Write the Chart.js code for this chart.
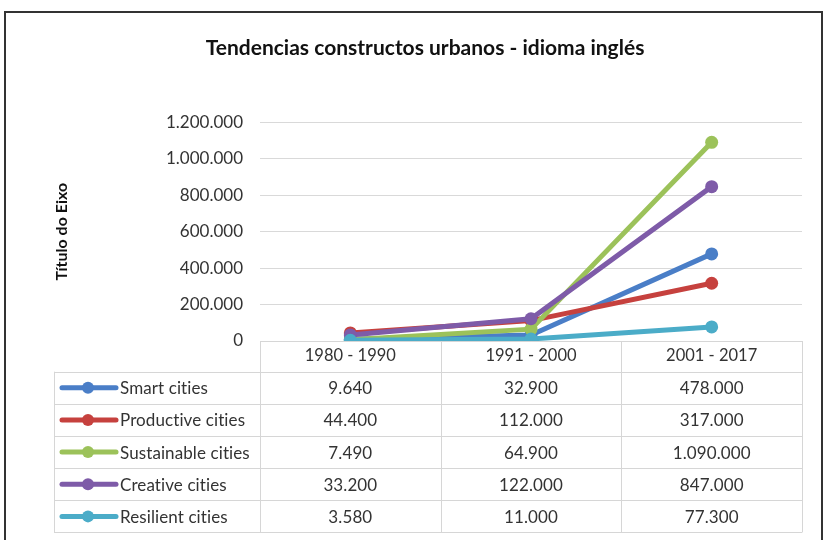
<!DOCTYPE html>
<html>
<head>
<meta charset="utf-8">
<script src="https://cdn.jsdelivr.net/npm/chart.js@4/dist/chart.umd.min.js"></script>
<style>
body { margin: 0; background: #fff; }
#frame { position: absolute; left: 4px; top: 11px; width: 815px; height: 540px; border: 2px solid #333; }
#wrap { position: absolute; left: 0; top: 0; width: 824px; height: 540px; }
</style>
</head>
<body>
<div id="frame"></div>
<div id="wrap"><canvas id="trend"></canvas></div>
<script>
// periods on the x axis / table header
const periods = ['1980 - 1990', '1991 - 2000', '2001 - 2017']
const seriesNames = ['Smart cities', 'Productive cities', 'Sustainable cities', 'Creative cities', 'Resilient cities']
const smartCities = [9640, 32900, 478000]
const productiveCities = [44400, 112000, 317000]
const sustainableCities = [7490, 64900, 1090000]
const creativeCities = [33200, 122000, 847000]
const resilientCities = [3580, 11000, 77300]
const seriesColors = ['#4A7EC7', '#C6413E', '#9CC25A', '#7E5BA8', '#4BACC8']
const yTicks = [0, 200000, 400000, 600000, 800000, 1000000, 1200000]

const allValues = [smartCities, productiveCities, sustainableCities, creativeCities, resilientCities]
const FONT = 'Lato, "Open Sans", sans-serif'
const TEXT = '#333333'

// 1234567 -> 1.234.567
function fmt(v) {
    return String(v).replace(/\B(?=(\d{3})+(?!\d))/g, '.')
}

const datasets = seriesNames.map((name, i) => ({
    label: name,
    data: allValues[i],
    borderColor: seriesColors[i],
    backgroundColor: seriesColors[i],
    borderWidth: 5,
    pointRadius: 6.5,
    pointBorderWidth: 0,
    tension: 0,
    order: seriesNames.length - 1 - i
}))

// draws the data table under the plot (Excel style)
const dataTable = {
    id: 'dataTable',
    afterDraw(chart) {
        const {ctx, chartArea, scales} = chart
        const x = scales.x
        const n = seriesNames.length
        const colW = (chartArea.right - chartArea.left) / periods.length
        const headTop = chartArea.bottom
        const bodyTop = headTop + 30.7
        const rowH = 32.15
        const bottom = bodyTop + n * rowH
        const legendLeft = 54

        ctx.save()
        ctx.strokeStyle = '#d6d6d6'
        ctx.lineWidth = 1
        ctx.beginPath()
        for (let r = 0; r <= n; r++) {
            const y = Math.round(bodyTop + r * rowH) + 0.5
            ctx.moveTo(legendLeft, y)
            ctx.lineTo(chartArea.right, y)
        }
        for (let c = 0; c <= periods.length; c++) {
            const xx = Math.round(chartArea.left + c * colW) + 0.5
            ctx.moveTo(xx, headTop)
            ctx.lineTo(xx, bottom)
        }
        ctx.moveTo(legendLeft + 0.5, bodyTop)
        ctx.lineTo(legendLeft + 0.5, bottom)
        ctx.stroke()

        ctx.font = '17px ' + FONT
        ctx.letterSpacing = '0.1px' // no "ti" ligature
        ctx.textBaseline = 'middle'
        for (let r = 0; r < n; r++) {
            const cy = bodyTop + r * rowH + rowH / 2
            // legend key
            ctx.strokeStyle = seriesColors[r]
            ctx.lineWidth = 5
            ctx.lineCap = 'round'
            ctx.beginPath()
            ctx.moveTo(legendLeft + 8, cy)
            ctx.lineTo(legendLeft + 62, cy)
            ctx.stroke()
            ctx.fillStyle = seriesColors[r]
            ctx.beginPath()
            ctx.arc(legendLeft + 34, cy, 6, 0, Math.PI * 2)
            ctx.fill()

            ctx.fillStyle = TEXT
            ctx.textAlign = 'left'
            ctx.fillText(seriesNames[r], legendLeft + 66, cy + 1)
            ctx.textAlign = 'center'
            allValues[r].forEach((v, c) => {
                ctx.fillText(fmt(v), x.getPixelForValue(c), cy + 1)
            })
        }
        ctx.restore()
    }
}

new Chart(document.getElementById('trend'), {
    type: 'line',
    data: { labels: periods, datasets: datasets },
    plugins: [dataTable],
    options: {
        responsive: true,
        maintainAspectRatio: false,
        animation: false,
        layout: { padding: { left: 48, right: 22, top: 35.5, bottom: 0 } },
        plugins: {
            legend: { display: false },
            tooltip: { enabled: false },
            title: {
                display: true,
                text: 'Tendencias constructos urbanos - idioma inglés',
                color: '#111',
                font: { family: FONT, size: 21, weight: 'bold' },
                padding: { top: 0, bottom: 61.6 }
            }
        },
        scales: {
            x: {
                type: 'category',
                offset: true,
                grid: { display: false, drawTicks: false },
                border: { color: '#d6d6d6' },
                ticks: { color: TEXT, font: { family: FONT, size: 16.5 }, padding: 5 },
                afterFit(s) { s.height = 199 }
            },
            y: {
                min: 0,
                max: 1200000,
                afterBuildTicks(s) { s.ticks = yTicks.map(v => ({ value: v })) },
                grid: { color: '#d9d9d9', drawTicks: false },
                border: { display: false },
                ticks: {
                    color: TEXT,
                    font: { family: FONT, size: 17 },
                    padding: 17,
                    callback: v => fmt(v)
                },
                title: {
                    display: true,
                    text: 'Título do Eixo',
                    color: '#111',
                    font: { family: FONT, size: 16, weight: 'bold' }
                },
                afterFit(s) { s.width = 212 }
            }
        }
    }
})
</script>
</body>
</html>
